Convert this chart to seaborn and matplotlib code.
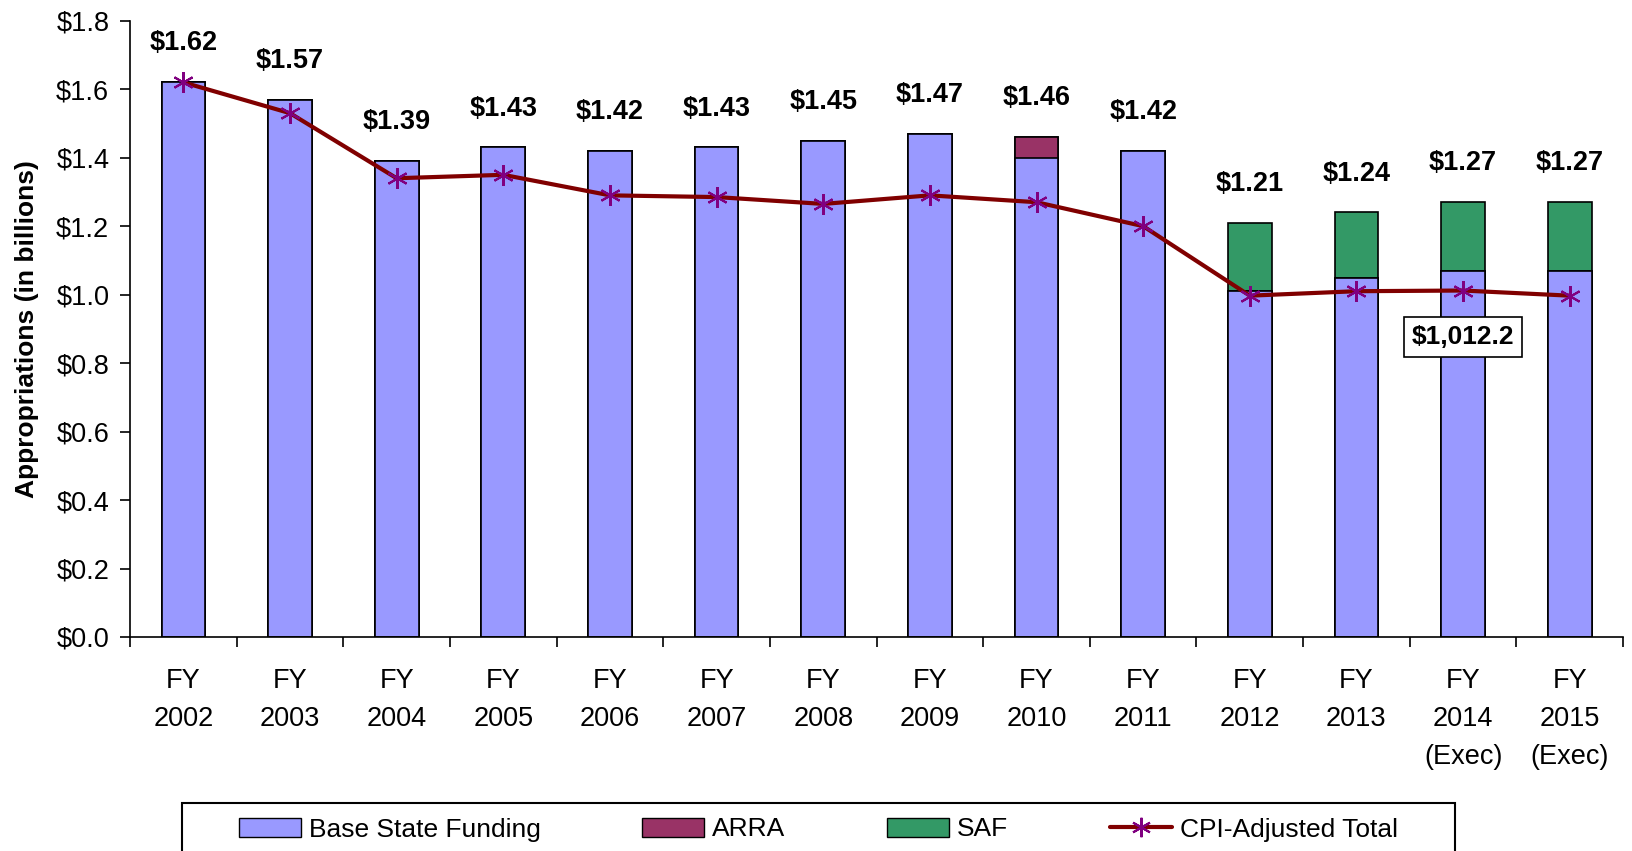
import seaborn as sns
import matplotlib.pyplot as plt
import pandas as pd
import numpy as np
from matplotlib.patches import Patch, Rectangle
from matplotlib.lines import Line2D

# values (billions)
years = ['FY\n2002', 'FY\n2003', 'FY\n2004', 'FY\n2005', 'FY\n2006', 'FY\n2007', 'FY\n2008',
         'FY\n2009', 'FY\n2010', 'FY\n2011', 'FY\n2012', 'FY\n2013', 'FY\n2014\n(Exec)', 'FY\n2015\n(Exec)']
base = [1.62, 1.57, 1.39, 1.43, 1.42, 1.43, 1.45, 1.47, 1.40, 1.42, 1.01, 1.05, 1.07, 1.07]
arra = [0, 0, 0, 0, 0, 0, 0, 0, 0.06, 0, 0, 0, 0, 0]
saf = [0, 0, 0, 0, 0, 0, 0, 0, 0, 0, 0.20, 0.19, 0.20, 0.20]
cpi = [1.62, 1.53, 1.34, 1.35, 1.29, 1.285, 1.265, 1.29, 1.27, 1.20, 0.997, 1.01, 1.012, 0.997]
total_labels = ['$1.62', '$1.57', '$1.39', '$1.43', '$1.42', '$1.43', '$1.45', '$1.47', '$1.46',
                '$1.42', '$1.21', '$1.24', '$1.27', '$1.27']
callout = '$1,012.2'

df = pd.DataFrame({'year': years, 'base': base, 'arra': arra, 'saf': saf, 'cpi': cpi})
df['base_arra'] = df['base'] + df['arra']
df['total'] = df['base_arra'] + df['saf']
df['pos'] = np.arange(len(df))

c_base = '#9999FF'
c_arra = '#993366'
c_saf = '#339966'
c_line = '#800000'
c_mark = '#800080'

sns.set_style('white')
plt.rcParams['font.family'] = ['Liberation Sans', 'DejaVu Sans']
plt.rcParams['text.color'] = 'black'
plt.rcParams['axes.labelcolor'] = 'black'
plt.rcParams['xtick.color'] = 'black'
plt.rcParams['ytick.color'] = 'black'

fig = plt.figure(figsize=(16.32, 8.51), dpi=100)
ax = fig.add_axes([0.0797, 0.2515, 0.9148, 0.7241])

# stacked bars: draw the tallest layer first, then cover it
bar_kw = dict(width=0.41, edgecolor='black', linewidth=1.2, saturation=1, ax=ax)
sns.barplot(data=df, x='year', y='total', color=c_saf, **bar_kw)
sns.barplot(data=df, x='year', y='base_arra', color=c_arra, **bar_kw)
sns.barplot(data=df, x='year', y='base', color=c_base, **bar_kw)

sns.lineplot(data=df, x='pos', y='cpi', color=c_line, linewidth=3, ax=ax,
             marker=(6, 2, 0), markersize=15, markeredgecolor=c_mark, markeredgewidth=1.5)

for i, row in df.iterrows():
    ax.annotate(total_labels[i], (row['pos'], row['total']), xytext=(0, 28),
                textcoords='offset points', ha='center', va='center',
                fontsize=19.5, fontweight='bold')

ax.annotate(callout, (12, 0.876), ha='center', va='center', fontsize=19, fontweight='bold',
            bbox=dict(boxstyle='square,pad=0.3', facecolor='white', edgecolor='black', linewidth=1.2))

ax.set_xlim(-0.49, len(df) - 0.51)
ax.set_ylim(0, 1.8)
ax.set_yticks(np.arange(0, 1.81, 0.2))
ax.set_yticklabels([f'${v:.1f}' for v in np.arange(0, 1.81, 0.2)], fontsize=19.5)
ax.set_xticks(df['pos'])
ax.set_xticklabels(years, fontsize=19.5, linespacing=1.6)
ax.set_xticks(np.arange(-0.5, len(df)), minor=True)
ax.tick_params(axis='x', which='major', length=0, pad=22.5)
ax.tick_params(axis='x', which='minor', length=7, width=1.2, direction='out', bottom=True)
ax.tick_params(axis='y', length=7, width=1.2, direction='out', left=True, pad=8)
ax.set_xlabel('')
ax.set_ylabel('Appropriations (in billions)', fontsize=19, fontweight='bold', labelpad=12)
sns.despine(ax=ax)
for s in ['left', 'bottom']:
    ax.spines[s].set_color('black')
    ax.spines[s].set_linewidth(1.2)

handles = [Patch(facecolor=c_base, edgecolor='black', label='Base State Funding'),
           Patch(facecolor=c_arra, edgecolor='black', label='ARRA'),
           Patch(facecolor=c_saf, edgecolor='black', label='SAF'),
           Line2D([], [], color=c_line, linewidth=3, marker=(6, 2, 0), markersize=14,
                  markeredgecolor=c_mark, markeredgewidth=1.5, label='CPI-Adjusted Total')]
fig.legend(handles=handles, loc='center left', bbox_to_anchor=(239 / 1632, 1 - 829.5 / 851),
           ncol=4, fontsize=19, frameon=False, borderpad=0, borderaxespad=0,
           handlelength=2.35, handleheight=0.7, columnspacing=3.85, handletextpad=0.3)
# legend box, cut by the bottom edge as in the original
fig.patches.append(Rectangle((182 / 1632, -0.05), (1455 - 182) / 1632, 0.05 + 1 - 803.5 / 851,
                             transform=fig.transFigure, fill=False, edgecolor='black',
                             linewidth=1.5))

fig.savefig('out.png', dpi=100)
